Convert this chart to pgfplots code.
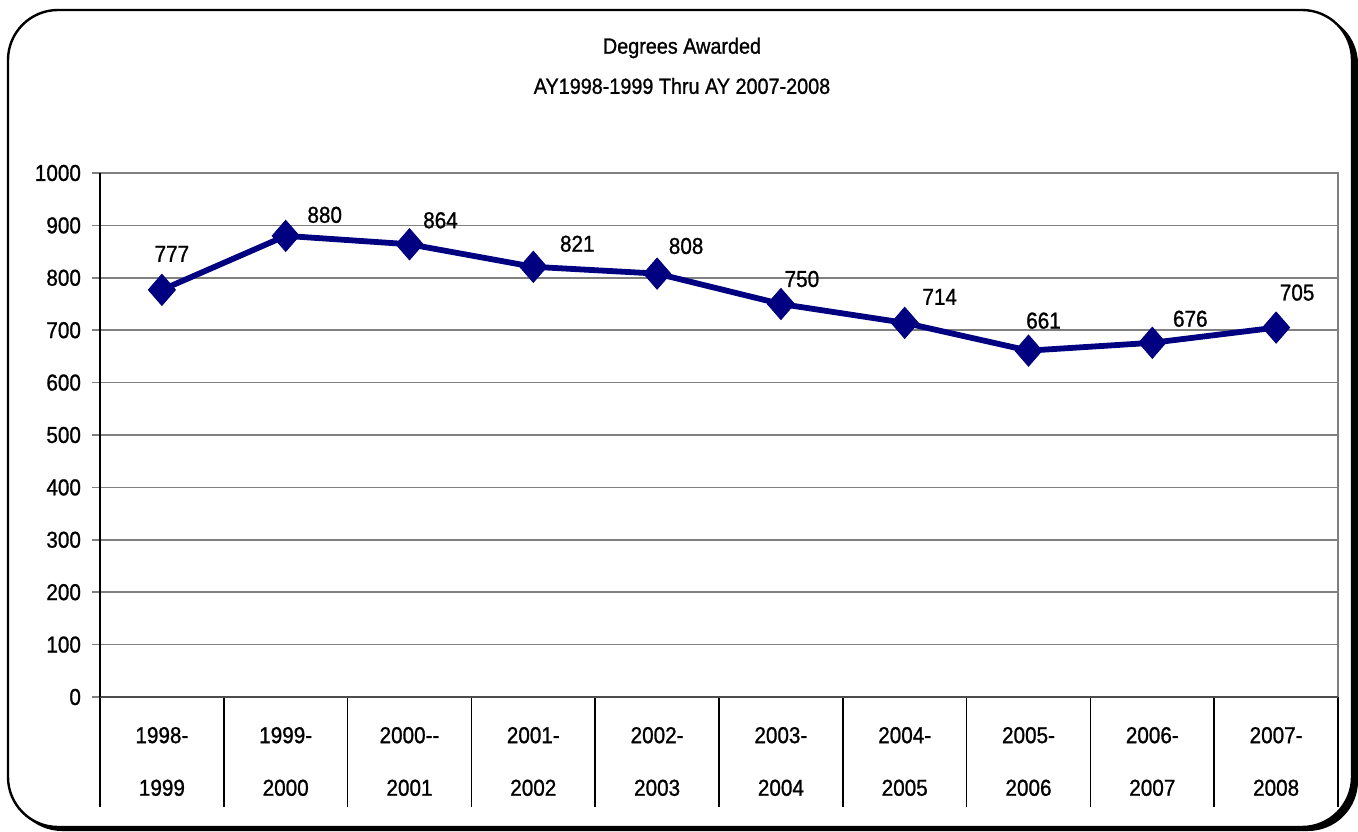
\documentclass[border=0pt]{standalone}
\usepackage{fontspec}
\setmainfont[FakeStretch=0.9, FakeBold=1]{Liberation Sans}
\usepackage{pgfplots}
\pgfplotsset{compat=1.18}
\usepackage{pgfplotstable}
\definecolor{navy}{RGB}{0,0,128}
\definecolor{gridgray}{RGB}{128,128,128}
\pgfplotstableread{
x y dx dy
0 777 5 18
1 880 19.5 10.5
2 864 15.5 12
3 821 22 11.5
4 808 14.5 13.8
5 750 10.5 12.5
6 714 17.5 13
7 661 7.5 15
8 676 19 12
9 705 10.5 17.5
}\datatable
\begin{document}
\begin{tikzpicture}[x=0.5pt,y=0.5pt]
\path[use as bounding box] (0,0) rectangle (1358,831);
\fill[black, rounded corners=25] (12,0) rectangle (1358,817);
\filldraw[fill=white, draw=black, line width=1.2pt, rounded corners=25] (8,4) rectangle (1352,821);
\node[font=\fontsize{11}{13}\selectfont] at (682,783) {Degrees Awarded};
\node[font=\fontsize{11}{13}\selectfont] at (682,745) {AY1998-1999 Thru AY 2007-2008};
\begin{axis}[
  at={(50pt,67pt)}, anchor=south west,
  scale only axis, width=619pt, height=262pt,
  xmin=-0.5, xmax=9.5, ymin=0, ymax=1000,
  ytick={0,100,...,1000},
  xtick={0,...,9},
  xtick pos=bottom, ytick pos=left,
  xticklabels={{1998-\\[12.5pt]1999},{1999-\\[12.5pt]2000},{2000-{}-\\[12.5pt]2001},{2001-\\[12.5pt]2002},{2002-\\[12.5pt]2003},{2003-\\[12.5pt]2004},{2004-\\[12.5pt]2005},{2005-\\[12.5pt]2006},{2006-\\[12.5pt]2007},{2007-\\[12.5pt]2008}},
  xticklabel style={align=center, font=\fontsize{11.5}{13.8}\selectfont, yshift=-7.5pt},
  yticklabel style={font=\fontsize{11.5}{13.8}\selectfont, xshift=-2pt},
  /pgf/number format/assume math mode=true,
  /pgf/number format/1000 sep={},
  major x tick style={draw=none},
  major y tick style={gridgray, line width=0.8pt},
  tick align=outside, major tick length=4pt,
  extra x ticks={-0.5,0.5,...,9.5},
  extra x tick labels={},
  extra x tick style={major tick length=55pt, tick align=outside, major x tick style={draw=black, line width=0.8pt}, grid=none},
  ymajorgrids,
  grid style={gridgray, line width=0.8pt},
  axis line style={gridgray, line width=0.8pt},
  clip=false,
]
\draw[black!70, line width=1pt] (axis cs:-0.5,0) -- (axis cs:9.5,0);
\draw[black, line width=0.8pt] (axis cs:-0.5,0) -- (axis cs:-0.5,1000);
\addplot[color=navy, line width=2.9pt, mark=square*, mark size=4.8pt,
  mark options={solid, line width=0.4pt, fill=navy, yscale=1.15, rotate=45},
  nodes near coords, point meta=explicit,
  visualization depends on={\thisrow{dx}\as\dx},
  visualization depends on={\thisrow{dy}\as\dy},
  every node near coord/.append style={anchor=center, xshift=\dx pt, yshift=\dy pt, font=\fontsize{11.5}{13.8}\selectfont, text=black}]
  table[x=x, y=y, meta=y] {\datatable};
\end{axis}
\end{tikzpicture}
\end{document}
